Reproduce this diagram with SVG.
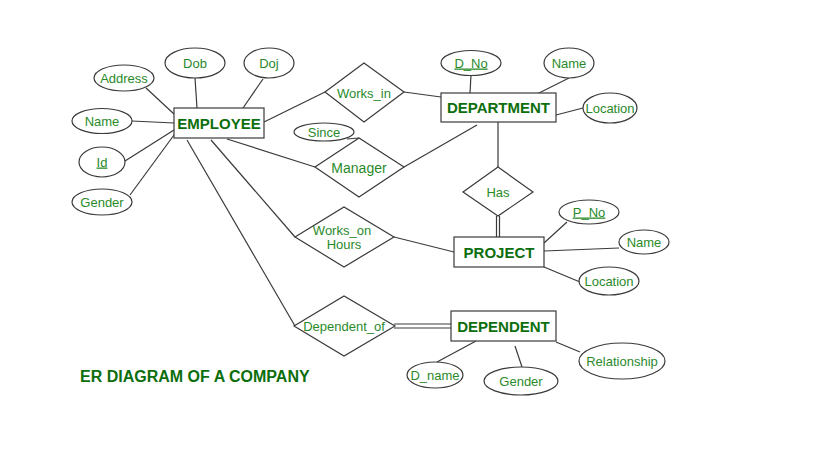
<svg xmlns="http://www.w3.org/2000/svg" width="819" height="460" viewBox="0 0 819 460">
  <style>
    .shape { fill: #ffffff; stroke: #3a3a3a; stroke-width: 1.2; }
    .link { stroke: #3a3a3a; stroke-width: 1.2; fill: none; }
    .attr { font-family: "Liberation Sans", Arial, sans-serif; font-size: 13px; fill: #2a8a2a; text-anchor: middle; }
    .ent { font-family: "Liberation Sans", Arial, sans-serif; font-size: 15px; font-weight: bold; fill: #0c6e0c; text-anchor: middle; }
    .key { text-decoration: underline; }
    .title { font-family: "Liberation Sans", Arial, sans-serif; font-size: 16px; font-weight: bold; fill: #0c6e0c; }
  </style>
  <rect width="819" height="460" fill="#ffffff"/>

  <!-- connectors -->
  <g id="connectors">
    <!-- EMPLOYEE attributes -->
    <line class="link" x1="146" y1="88" x2="174" y2="114"/>
    <line class="link" x1="195" y1="78" x2="197" y2="108"/>
    <line class="link" x1="263" y1="79" x2="243" y2="108"/>
    <line class="link" x1="132" y1="121" x2="174" y2="123"/>
    <line class="link" x1="125" y1="161" x2="174" y2="130"/>
    <line class="link" x1="130" y1="195" x2="174" y2="135"/>
    <!-- EMPLOYEE relationships -->
    <line class="link" x1="264" y1="122" x2="325" y2="92"/>
    <line class="link" x1="227" y1="139" x2="315" y2="167"/>
    <line class="link" x1="211" y1="140" x2="295" y2="237"/>
    <line class="link" x1="187" y1="140" x2="295" y2="326"/>
    <!-- Works_in / Manager to DEPARTMENT -->
    <line class="link" x1="404" y1="92" x2="441" y2="97"/>
    <line class="link" x1="347" y1="139" x2="359" y2="138"/>
    <line class="link" x1="404" y1="167" x2="477" y2="125"/>
    <!-- DEPARTMENT attributes -->
    <line class="link" x1="471" y1="75" x2="470" y2="93"/>
    <line class="link" x1="569" y1="78" x2="535" y2="95"/>
    <line class="link" x1="556" y1="115" x2="583" y2="108"/>
    <!-- DEPARTMENT - Has - PROJECT -->
    <line class="link" x1="498" y1="122" x2="498" y2="167"/>
    <line class="link" x1="496.5" y1="216" x2="496.5" y2="237"/>
    <line class="link" x1="499.5" y1="216" x2="499.5" y2="237"/>
    <!-- Works_on to PROJECT -->
    <line class="link" x1="394" y1="237" x2="454" y2="252"/>
    <!-- PROJECT attributes -->
    <line class="link" x1="544" y1="243" x2="567" y2="222"/>
    <line class="link" x1="544" y1="251" x2="619" y2="248"/>
    <line class="link" x1="544" y1="267" x2="580" y2="282"/>
    <!-- Dependent_of to DEPENDENT (double) -->
    <line class="link" x1="394" y1="324" x2="451" y2="324"/>
    <line class="link" x1="394" y1="328" x2="451" y2="328"/>
    <!-- DEPENDENT attributes -->
    <line class="link" x1="476" y1="341" x2="437" y2="362"/>
    <line class="link" x1="515" y1="346" x2="522" y2="367"/>
    <line class="link" x1="556" y1="342" x2="580" y2="352"/>
  </g>

  <!-- entities -->
  <g id="employee">
    <rect class="shape" x="174" y="108" width="90" height="30"/>
    <text class="ent" x="219" y="128.5">EMPLOYEE</text>
  </g>
  <g id="department">
    <rect class="shape" x="441" y="93" width="115" height="29"/>
    <text class="ent" x="498.5" y="113">DEPARTMENT</text>
  </g>
  <g id="project">
    <rect class="shape" x="454" y="237" width="90" height="30"/>
    <text class="ent" x="499" y="257.5">PROJECT</text>
  </g>
  <g id="dependent">
    <rect class="shape" x="451" y="311" width="105" height="30"/>
    <text class="ent" x="503.5" y="331.5">DEPENDENT</text>
  </g>

  <!-- relationships -->
  <g id="works-in">
    <polygon class="shape" points="325,92 364,63 404,92 364,122"/>
    <text class="attr" x="364" y="97.5">Works_in</text>
  </g>
  <g id="manager">
    <polygon class="shape" points="315,167 359,138 404,167 359,197"/>
    <text class="attr" x="359" y="173" style="font-size:14px">Manager</text>
  </g>
  <g id="has">
    <polygon class="shape" points="463,192 498,167 533,192 498,216"/>
    <text class="attr" x="498" y="196.5">Has</text>
  </g>
  <g id="works-on">
    <polygon class="shape" points="295,237 344,207 394,237 344,267"/>
    <text class="attr" x="342" y="234.5">Works_on</text>
    <text class="attr" x="344" y="248.5">Hours</text>
  </g>
  <g id="dependent-of">
    <polygon class="shape" points="294,326 344,296 395,326 344,356"/>
    <text class="attr" x="344" y="330.5">Dependent_of</text>
  </g>

  <!-- EMPLOYEE attributes -->
  <g id="emp-address">
    <ellipse class="shape" cx="124" cy="78" rx="30" ry="13"/>
    <text class="attr" x="124" y="82.5">Address</text>
  </g>
  <g id="emp-dob">
    <ellipse class="shape" cx="195" cy="63" rx="30" ry="15"/>
    <text class="attr" x="195" y="67.5">Dob</text>
  </g>
  <g id="emp-doj">
    <ellipse class="shape" cx="269" cy="63" rx="25" ry="15"/>
    <text class="attr" x="269" y="67.5">Doj</text>
  </g>
  <g id="emp-name">
    <ellipse class="shape" cx="102" cy="121" rx="30" ry="12.5"/>
    <text class="attr" x="102" y="125.5">Name</text>
  </g>
  <g id="emp-id">
    <ellipse class="shape" cx="102" cy="162" rx="23" ry="15"/>
    <text class="attr key" x="102" y="166.5">Id</text>
  </g>
  <g id="emp-gender">
    <ellipse class="shape" cx="102" cy="202" rx="30" ry="13"/>
    <text class="attr" x="102" y="206.5">Gender</text>
  </g>
  <g id="mgr-since">
    <ellipse class="shape" cx="324" cy="132" rx="30" ry="9"/>
    <text class="attr" x="324" y="136.5">Since</text>
  </g>

  <!-- DEPARTMENT attributes -->
  <g id="dept-dno">
    <ellipse class="shape" cx="471" cy="63" rx="30" ry="12.5"/>
    <text class="attr key" x="471" y="67.5">D_No</text>
  </g>
  <g id="dept-name">
    <ellipse class="shape" cx="569" cy="63" rx="25" ry="15"/>
    <text class="attr" x="569" y="67.5">Name</text>
  </g>
  <g id="dept-location">
    <ellipse class="shape" cx="610" cy="108" rx="27" ry="15"/>
    <text class="attr" x="610" y="112.5">Location</text>
  </g>

  <!-- PROJECT attributes -->
  <g id="proj-pno">
    <ellipse class="shape" cx="589" cy="212" rx="30" ry="12"/>
    <text class="attr key" x="589" y="216.5">P_No</text>
  </g>
  <g id="proj-name">
    <ellipse class="shape" cx="644" cy="242" rx="25" ry="12"/>
    <text class="attr" x="644" y="246.5">Name</text>
  </g>
  <g id="proj-location">
    <ellipse class="shape" cx="609" cy="281" rx="30" ry="14"/>
    <text class="attr" x="609" y="285.5">Location</text>
  </g>

  <!-- DEPENDENT attributes -->
  <g id="dep-dname">
    <ellipse class="shape" cx="435" cy="375" rx="28" ry="13"/>
    <text class="attr" x="435" y="379.5">D_name</text>
  </g>
  <g id="dep-gender">
    <ellipse class="shape" cx="521" cy="381" rx="37" ry="14"/>
    <text class="attr" x="521" y="385.5">Gender</text>
  </g>
  <g id="dep-relationship">
    <ellipse class="shape" cx="622" cy="361" rx="43" ry="18"/>
    <text class="attr" x="622" y="365.5">Relationship</text>
  </g>

  <text class="title" x="80" y="382">ER DIAGRAM OF A COMPANY</text>
</svg>
